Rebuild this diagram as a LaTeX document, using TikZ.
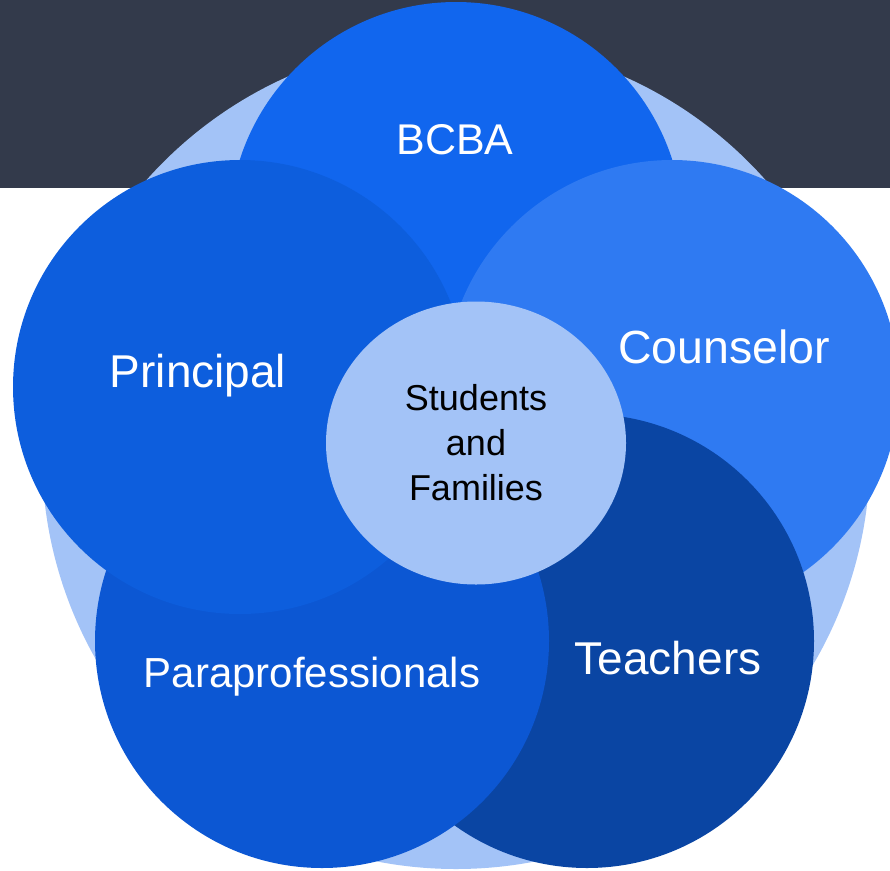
\documentclass[tikz,border=0pt]{standalone}
\usepackage{fontspec}
\setmainfont{Liberation Sans}
\usetikzlibrary{shapes.geometric}

\definecolor{bandgray}{HTML}{333A4B}
\definecolor{ringblue}{HTML}{A3C3F7}
\definecolor{bcbablue}{HTML}{1166EE}
\definecolor{princblue}{HTML}{0D5EDD}
\definecolor{counsblue}{HTML}{2F7AF2}
\definecolor{teachblue}{HTML}{0A45A3}
\definecolor{parablue}{HTML}{0C57D3}

\tikzset{
  petal/.style={circle, draw=none, minimum size=454pt, inner sep=0pt},
  petaltext/.style={text=white, anchor=base, inner sep=0pt},
}

\begin{document}
\begin{tikzpicture}[x=1pt, y=-1pt]
\useasboundingbox (0,0) rectangle (890,870);
\clip (0,0) rectangle (890,870);
\fill[bandgray] (0,0) rectangle (890,188);

\node[circle, fill=ringblue, minimum size=828pt, inner sep=0pt] (ring) at (456,455) {};

\node[petal, fill=bcbablue] (bcba) at (456,229) {};
\node[petal, fill=counsblue] (couns) at (672,387) {};
\node[petal, fill=teachblue] (teach) at (587,641) {};
\node[petal, fill=parablue] (para) at (322,641) {};
\node[petal, fill=princblue] (princ) at (240,387) {};

\node[ellipse, fill=ringblue, minimum width=300pt, minimum height=283pt, inner sep=0pt,
  align=center, font=\fontsize{36}{45}\selectfont] (stud) at (476,443)
  {Students\\and\\Families};

\node[petaltext, font=\fontsize{43}{50}\selectfont] (bcbatext) at (455,154) {BCBA};
\node[petaltext, font=\fontsize{46}{54}\selectfont] (princtext) at (198,387) {Principal};
\node[petaltext, font=\fontsize{46.5}{54}\selectfont] (counstext) at (724,363) {Counselor};
\node[petaltext, font=\fontsize{46}{54}\selectfont] (teachtext) at (668,674) {Teachers};
\node[petaltext, font=\fontsize{42}{50}\selectfont] (paratext) at (312,687) {Paraprofessionals};

\end{tikzpicture}
\end{document}
